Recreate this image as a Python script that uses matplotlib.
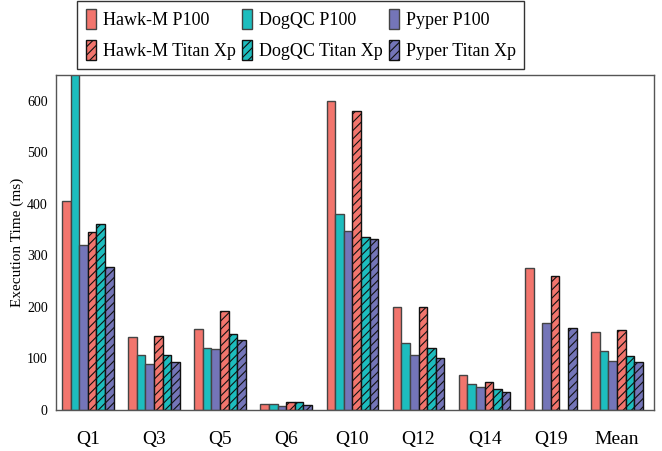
import numpy as np
import matplotlib.pyplot as plt

plt.rcParams['font.family'] = ['Liberation Serif', 'DejaVu Serif']
plt.rcParams['hatch.linewidth'] = 0.8

queries = ['Q1', 'Q3', 'Q5', 'Q6', 'Q10', 'Q12', 'Q14', 'Q19', 'Mean']

hawk_p100 = [405, 142, 157, 11, 600, 199, 68, 276, 151]
dogqc_p100 = [700, 106, 121, 11, 381, 130, 50, 0, 114]
pyper_p100 = [320, 90, 118, 7, 348, 107, 44, 169, 95]
hawk_titan = [346, 144, 192, 15, 581, 199, 54, 259, 155]
dogqc_titan = [361, 107, 148, 15, 335, 120, 40, 0, 105]
pyper_titan = [277, 93, 135, 9, 331, 101, 34, 159, 93]

series = [
    ('Hawk-M P100', hawk_p100, '#F2756D', ''),
    ('DogQC P100', dogqc_p100, '#1DBDBE', ''),
    ('Pyper P100', pyper_p100, '#7475B8', ''),
    ('Hawk-M Titan Xp', hawk_titan, '#F2756D', '////'),
    ('DogQC Titan Xp', dogqc_titan, '#1DBDBE', '////'),
    ('Pyper Titan Xp', pyper_titan, '#7475B8', '////'),
]

fig = plt.figure(figsize=(6.62, 4.51), dpi=100)
ax = fig.add_axes([0.0846, 0.091, 0.9034, 0.7427])

x = np.arange(len(queries))
width = 0.13
handles = []
for i, (name, vals, color, hatch) in enumerate(series):
    offset = (i - 2.5) * width
    edge = '#444444' if hatch == '' else '#111111'
    b = ax.bar(x + offset, vals, width, color=color, edgecolor=edge,
               linewidth=1.0, hatch=hatch, label=name)
    handles.append(b)

ax.set_xlim(-0.48, 8.56)
ax.set_ylim(0, 650)
ax.set_yticks([0, 100, 200, 300, 400, 500, 600])
ax.set_xticks(x)
ax.set_xticklabels(queries, fontsize=14)
ax.tick_params(axis='x', length=0, pad=15)
ax.tick_params(axis='y', length=0, labelsize=10, pad=6)
ax.set_ylabel('Execution Time (ms)', fontsize=11, labelpad=2)
for s in ax.spines.values():
    s.set_color('#555555')
    s.set_linewidth(1.0)

# column-major legend: P100 on the first row, Titan Xp on the second
order = [0, 3, 1, 4, 2, 5]
leg = fig.legend([handles[k] for k in order], [series[k][0] for k in order],
                 ncol=3, loc='upper left', bbox_to_anchor=(0.117, 0.998),
                 borderaxespad=0, fontsize=13, frameon=True, fancybox=False,
                 edgecolor='black', handlelength=0.55, handleheight=1.35,
                 handletextpad=0.4, columnspacing=0.35, labelspacing=0.6,
                 borderpad=0.45)
leg.get_frame().set_linewidth(1.0)

fig.savefig('out.png', dpi=100)
